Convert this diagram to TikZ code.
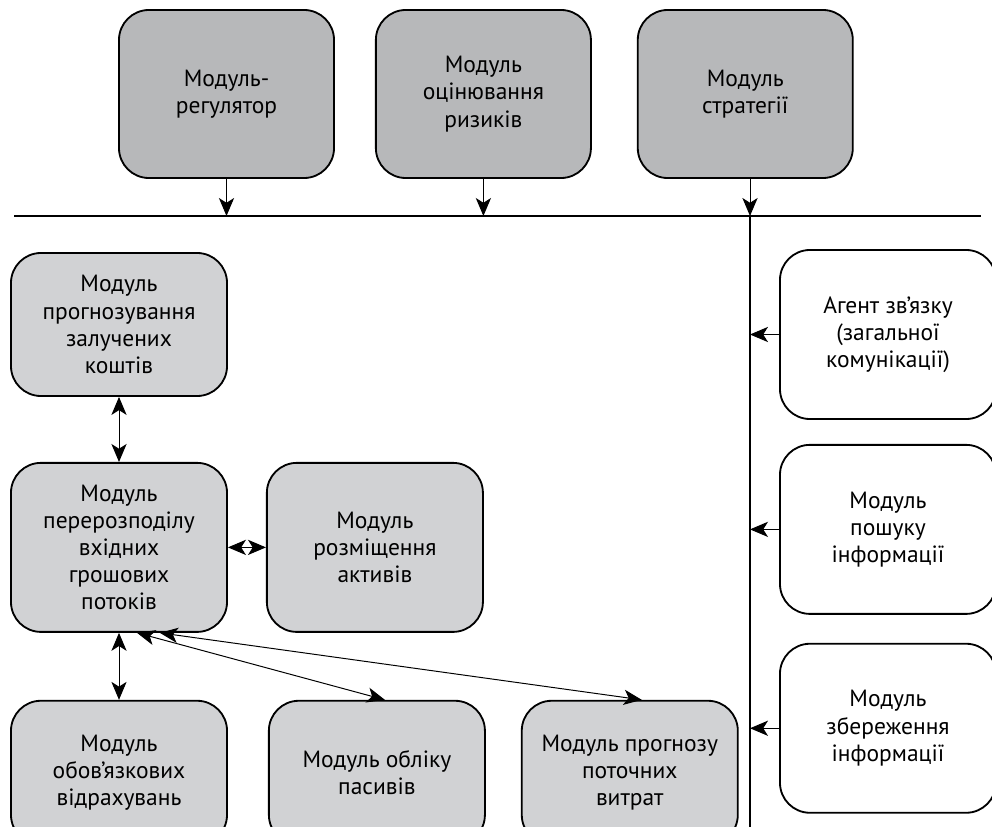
\documentclass[tikz,border=0pt]{standalone}
\usepackage{fontspec}
\setmainfont{PT Sans}
\usetikzlibrary{positioning, arrows.meta}
\definecolor{darkgrey}{HTML}{B7B8BA}
\definecolor{lightgrey}{HTML}{D1D2D4}

\begin{document}
\begin{tikzpicture}[
  x=0.025cm, y=-0.025cm,
  module/.style={rectangle, rounded corners=0.75cm, draw=black, line width=1.3pt, minimum width=5.4cm, align=center, inner sep=2pt, font=\fontsize{16.7}{19.3}\selectfont},
  topbox/.style={module, fill=darkgrey, minimum width=5.375cm, minimum height=4.2cm},
  leftbox/.style={module, fill=lightgrey, minimum height=4.225cm},
  sidebox/.style={module, fill=white, minimum height=4.225cm},
  arrow/.style={-{Stealth[length=0.45cm, width=0.38cm, inset=0.12cm]}, line width=0.7pt},
  twoway/.style={{Stealth[length=0.45cm, width=0.38cm, inset=0.12cm]}-{Stealth[length=0.45cm, width=0.38cm, inset=0.12cm]}, line width=0.7pt},
  bus/.style={line width=1pt}
]
\useasboundingbox (0,0) rectangle (992,827);

% top row
\node[topbox] (regulator) at (226.5,94) {Модуль-\\регулятор};
\node[topbox, right=1cm of regulator] (risks) {Модуль\\оцінювання\\ризиків};
\node[topbox, right=1.125cm of risks] (strategy) {Модуль\\стратегії};

% bus lines
\coordinate (busW) at (14,216);
\coordinate (busE) at (981,216);
\coordinate (busX) at (750,216);
\coordinate (busS) at (750,845);
\draw[bus] (busW) -- (busE);
\draw[bus] (busX) -- (busS);

% left part
\node[leftbox, minimum height=3.575cm] (funds) at (119,324.5) {Модуль\\прогнозування\\залучених\\коштів};
\node[leftbox, below=1.625cm of funds] (redistrib) {Модуль\\перерозподілу\\вхідних\\грошових\\потоків};
\node[leftbox, right=0.95cm of redistrib] (assets) {Модуль\\розміщення\\активів};
\node[leftbox, minimum height=3.6cm, below=1.675cm of redistrib] (deductions) {Модуль\\обов’язкових\\відрахувань};
\node[leftbox, minimum height=3.6cm, right=1cm of deductions] (liabilities) {Модуль обліку\\пасивів};
\node[leftbox, minimum height=3.6cm, right=0.875cm of liabilities] (costs) {Модуль прогнозу\\поточних\\витрат};

% right part
\node[sidebox] (agent) at (888,334.5) {Агент зв’язку\\(загальної\\комунікації)};
\node[sidebox, below=0.6cm of agent] (search) {Модуль\\пошуку\\інформації};
\node[sidebox, below=0.7cm of search] (storage) {Модуль\\збереження\\інформації};

% connections
\draw[arrow] (regulator.south) -- (regulator.south |- busW);
\draw[arrow] (risks.south) -- (risks.south |- busW);
\draw[arrow] (strategy.south -| busX) -- (busX);
\draw[arrow] (agent.west) -- (agent.west -| busX);
\draw[arrow] (search.west) -- (search.west -| busX);
\draw[arrow] (storage.west) -- (storage.west -| busX);

\draw[twoway] (funds.south) -- (redistrib.north);
\draw[twoway] (redistrib.east) -- (assets.west);
\draw[twoway] (redistrib.south) -- (deductions.north);
\draw[twoway] ([xshift=0.45cm]redistrib.south) -- ([xshift=0.2cm]liabilities.north);
\draw[twoway] ([xshift=1.02cm]redistrib.south) -- ([xshift=0.3cm]costs.north);
\end{tikzpicture}
\end{document}
